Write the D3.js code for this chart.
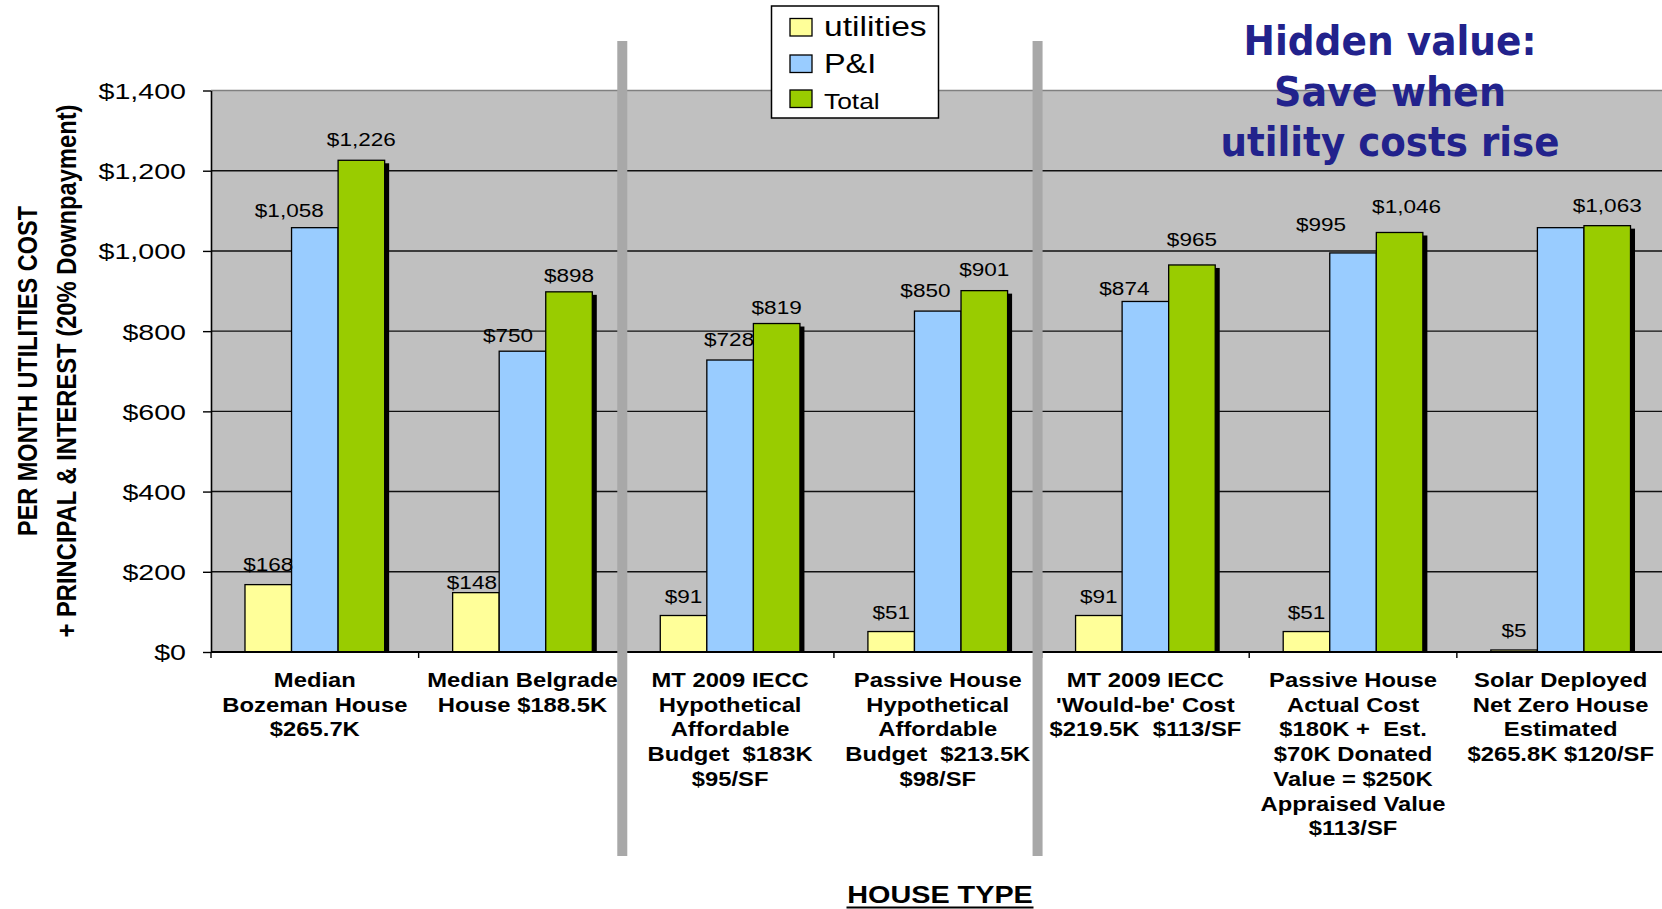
<!DOCTYPE html>
<html><head><meta charset="utf-8">
<script src="https://cdn.jsdelivr.net/npm/d3@7"></script>
<style>body{margin:0;background:#fff}svg{display:block}text{white-space:pre}</style>
</head><body><svg id="c" width="1662" height="909"></svg>
<script>
// ---------- data ----------
const categories = [
  ["Median", "Bozeman House", "$265.7K"],
  ["Median Belgrade", "House $188.5K"],
  ["MT 2009 IECC", "Hypothetical", "Affordable", "Budget  $183K", "$95/SF"],
  ["Passive House", "Hypothetical", "Affordable", "Budget  $213.5K", "$98/SF"],
  ["MT 2009 IECC", "'Would-be' Cost", "$219.5K  $113/SF"],
  ["Passive House", "Actual Cost", "$180K +  Est.", "$70K Donated", "Value = $250K", "Appraised Value", "$113/SF"],
  ["Solar Deployed", "Net Zero House", "Estimated", "$265.8K $120/SF"]
];
const seriesNames = ["utilities", "P&I", "Total"];
const utilities = [168, 148, 91, 51, 91, 51, 5];
const pAndI = [1058, 750, 728, 850, 874, 995, 1058];
const total = [1226, 898, 819, 901, 965, 1046, 1063];
const yTicks = [0, 200, 400, 600, 800, 1000, 1200, 1400];
const titleLines = ["Hidden value:", "Save when", "utility costs rise"];
const yTitleLines = ["PER MONTH UTILITIES COST", "+ PRINCIPAL & INTEREST (20% Downpayment)"];
const xTitle = "HOUSE TYPE";
const hiddenLabels = ["P&I-6"];

// ---------- styling / layout ----------
const colors = {"utilities": "#FFFF99", "P&I": "#99CCFF", "Total": "#99CC00"};
const labelNudge = {
  "utilities": [[0,-0.6],[-4,9.5],[0,0.5],[0,0],[0,0],[0,0],[0,0.3]],
  "P&I":       [[-25.5,2],[-14.5,3.5],[-1,-1],[-12.3,-1],[-21,6.6],[-32,-9],[0,0]],
  "Total":     [[0,-1.6],[0,3],[0,3],[0,-2],[0,-5.7],[7,-6],[0,-1]]
};
const FONT = "'Liberation Sans', Arial, sans-serif";
const plot = {l: 211, r: 1662, t: 90.5, b: 652};

const seriesValues = {"utilities": utilities, "P&I": pAndI, "Total": total};
const svg = d3.select("#c");

const x0 = d3.scaleBand().domain(d3.range(categories.length)).range([plot.l, 1664.5]);
const x1 = d3.scaleBand().domain(seriesNames).range([0, x0.bandwidth()]).paddingInner(0).paddingOuter(0.73);
const y = d3.scaleLinear().domain([0, 1400]).range([plot.b, plot.t]);
const fmt = v => "$" + d3.format(",")(v);

function stext(parent, x, yy, str, o) {
  return parent.append("text")
    .attr("transform", `translate(${x},${yy}) scale(${o.sx || 1},1)`)
    .attr("text-anchor", o.anchor || "middle")
    .attr("font-family", o.family || FONT)
    .attr("font-size", o.size)
    .attr("font-weight", o.weight || "normal")
    .attr("letter-spacing", o.ls || 0)
    .attr("fill", o.fill || "#000")
    .text(str);
}

// plot background
svg.append("rect").attr("x", plot.l).attr("y", plot.t).attr("width", plot.r - plot.l).attr("height", plot.b - plot.t).attr("fill", "#C0C0C0");
// gridlines
svg.append("g").selectAll("line").data(yTicks.filter(v => v > 0 && v < 1400)).join("line")
  .attr("x1", plot.l).attr("x2", plot.r).attr("y1", d => y(d)).attr("y2", d => y(d))
  .attr("stroke", "#111").attr("stroke-width", 1.4);
svg.append("line").attr("x1", plot.l).attr("x2", plot.r).attr("y1", plot.t).attr("y2", plot.t)
  .attr("stroke", "#808080").attr("stroke-width", 1.6);

// bars data
const barData = [];
categories.forEach((c, i) => seriesNames.forEach(s => barData.push({i, s, v: seriesValues[s][i]})));

svg.append("clipPath").attr("id", "pc").append("rect")
  .attr("x", plot.l).attr("y", 0).attr("width", plot.r - plot.l).attr("height", plot.b);
// shadows
svg.append("g").attr("clip-path", "url(#pc)").selectAll("rect").data(barData).join("rect")
  .attr("x", d => x0(d.i) + x1(d.s) + 4.5).attr("y", d => y(d.v) + 3)
  .attr("width", x1.bandwidth()).attr("height", d => plot.b - y(d.v))
  .attr("fill", "#000");
// bars
svg.append("g").selectAll("rect").data(barData).join("rect")
  .attr("x", d => x0(d.i) + x1(d.s)).attr("y", d => y(d.v))
  .attr("width", x1.bandwidth()).attr("height", d => plot.b - y(d.v))
  .attr("fill", d => colors[d.s]).attr("stroke", "#000").attr("stroke-width", 1.3);

// y axis
const ya = svg.append("g").attr("transform", `translate(${plot.l},0)`)
  .call(d3.axisLeft(y).tickValues(yTicks).tickSize(8).tickSizeOuter(0).tickFormat(fmt));
ya.select(".domain").attr("stroke", "#000").attr("stroke-width", 1.6);
ya.selectAll(".tick line").attr("stroke", "#000").attr("stroke-width", 1.4);
ya.selectAll(".tick text")
  .attr("font-family", FONT).attr("font-size", 22).attr("fill", "#000")
  .attr("x", -25 / 1.3).attr("dy", "0.36em").attr("transform", "scale(1.3,1)");

// x axis
svg.append("line").attr("x1", plot.l).attr("x2", plot.r).attr("y1", plot.b).attr("y2", plot.b)
  .attr("stroke", "#000").attr("stroke-width", 2);
svg.append("g").selectAll("line").data(d3.range(categories.length)).join("line")
  .attr("x1", d => x0(d)).attr("x2", d => x0(d)).attr("y1", plot.b).attr("y2", plot.b + 6)
  .attr("stroke", "#000").attr("stroke-width", 1.4);

// separators
svg.append("g").selectAll("rect").data([2, 4]).join("rect")
  .attr("x", d => x0(d) - 9).attr("y", 41).attr("width", 10).attr("height", 815)
  .attr("fill", "#A8A8A8");

// category labels
const cl = svg.append("g");
categories.forEach((lines, i) => {
  const cx = x0(i) + x0.bandwidth() / 2;
  lines.forEach((ln, k) => stext(cl, cx, 687 + k * 24.7, ln, {size: 19.5, weight: "bold", sx: 1.22}));
});

// data labels
const dl = svg.append("g");
barData.forEach(d => {
  if (hiddenLabels.includes(d.s + "-" + d.i)) return;
  const n = labelNudge[d.s][d.i];
  const cx = x0(d.i) + x1(d.s) + x1.bandwidth() / 2 + n[0];
  stext(dl, cx, y(d.v) - 13 + n[1], fmt(d.v), {size: 18.5, sx: 1.22});
});

// y title
const yt = svg.append("g");
const yTitleX = [37, 76], yTitleLen = [330, 533];
yTitleLines.forEach((t, k) => {
  yt.append("text")
    .attr("transform", `translate(${yTitleX[k]},371) scale(1.2,1) rotate(-90)`)
    .attr("text-anchor", "middle").attr("font-family", FONT).attr("font-weight", "bold")
    .attr("font-size", 23.5).attr("textLength", yTitleLen[k]).attr("lengthAdjust", "spacingAndGlyphs")
    .text(t);
});

// x title
stext(svg, 940, 903, xTitle, {size: 24, weight: "bold", sx: 1.2});
svg.append("line").attr("x1", 846.5).attr("x2", 1033.5).attr("y1", 907.5).attr("y2", 907.5)
  .attr("stroke", "#000").attr("stroke-width", 1.8);

// legend
const lg = svg.append("g");
lg.append("rect").attr("x", 771.5).attr("y", 6).attr("width", 167).attr("height", 112)
  .attr("fill", "#fff").attr("stroke", "#000").attr("stroke-width", 1.5);
const legY = [18.5, 55, 90], legBase = [36, 72.5, 109], legSize = [28, 27, 22];
seriesNames.forEach((s, k) => {
  lg.append("rect").attr("x", 790).attr("y", legY[k]).attr("width", 22).attr("height", 17.5)
    .attr("fill", colors[s]).attr("stroke", "#000").attr("stroke-width", 1.3);
  stext(lg, 824, legBase[k], s, {size: legSize[k], sx: 1.2, anchor: "start"});
});

// title
const tl = svg.append("g");
const tBase = [55, 106, 156], tLen = [293, 232, 339];
titleLines.forEach((t, k) => {
  tl.append("text").attr("x", 1390).attr("y", tBase[k]).attr("text-anchor", "middle")
    .attr("font-family", "'DejaVu Sans', Verdana, sans-serif").attr("font-weight", "bold")
    .attr("font-size", 40).attr("fill", "#22228C")
    .attr("textLength", tLen[k]).attr("lengthAdjust", "spacingAndGlyphs")
    .text(t);
});
</script>
</body></html>
